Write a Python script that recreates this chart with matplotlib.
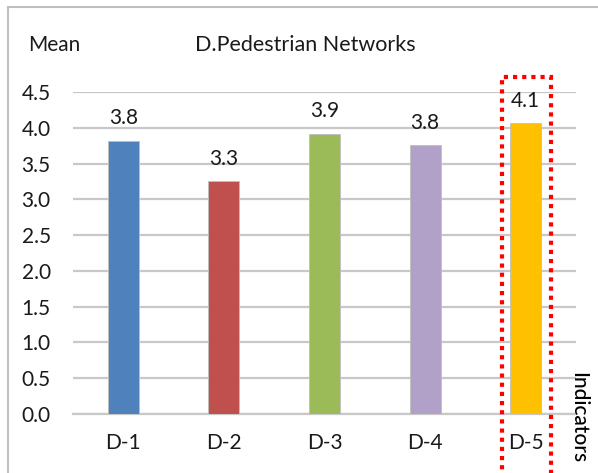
import matplotlib
matplotlib.use("Agg")
import matplotlib.pyplot as plt
from matplotlib.lines import Line2D
from matplotlib.patches import Rectangle

categories = ["D-1", "D-2", "D-3", "D-4", "D-5"]
means = [3.82, 3.26, 3.92, 3.76, 4.06]
colors = ["#4F81BD", "#C0504D", "#9BBB59", "#B1A0C7", "#FFC000"]
yticks = [0.0, 0.5, 1.0, 1.5, 2.0, 2.5, 3.0, 3.5, 4.0, 4.5]

plt.rcParams["font.family"] = ["Lato", "DejaVu Sans"]
FS = 15
TXT = "#1a1a1a"

W, H = 598, 473
fig = plt.figure(figsize=(W / 100, H / 100), dpi=100)
ax = fig.add_axes([73 / W, 1 - 414 / H, (576 - 73) / W, (414 - 92) / H])

x = list(range(len(categories)))
ax.bar(x, means, width=0.31, color=colors, edgecolor="#BFBFBF", linewidth=0.6, zorder=3)
for xi, v in zip(x, means):
    ax.text(xi, v + 0.17, f"{v:.1f}", ha="center", va="bottom", fontsize=FS, color=TXT, zorder=4)

ax.set_xlim(-0.5, len(categories) - 0.5)
ax.set_ylim(0, 4.5)
ax.set_yticks(yticks)
ax.set_yticklabels([f"{t:.1f}" for t in yticks], fontsize=FS, color=TXT)
ax.set_xticks(x)
ax.set_xticklabels(categories, fontsize=FS, color=TXT)
ax.tick_params(axis="both", length=0)
ax.tick_params(axis="y", pad=16)
ax.tick_params(axis="x", pad=14)
ax.yaxis.grid(True, color="#C8C8C8", linewidth=1.6, zorder=0)
for s in ["top", "right", "left"]:
    ax.spines[s].set_visible(False)
ax.spines["bottom"].set_color("#C8C8C8")
ax.spines["bottom"].set_linewidth(1.6)

# Highlight box around D-5
ax.add_patch(Rectangle((502 / W, -0.02), (551 - 502) / W, 1 - 77 / H + 0.02,
                       transform=fig.transFigure, fill=False, edgecolor="#FF0000",
                       linestyle=(0, (1, 1.2)), linewidth=3, clip_on=False, zorder=5))

fig.text(28 / W, 1 - 45 / H, "Mean", ha="left", va="center", fontsize=FS, color=TXT)
fig.text(305 / W, 1 - 45 / H, "D.Pedestrian Networks", ha="center", va="center", fontsize=15.5, color=TXT)
fig.text(578 / W, 1 - 372 / H, "Indicators", ha="center", va="top", rotation=-90,
         fontsize=FS, color="#000000", fontweight="medium")

# Outer frame lines
fig.add_artist(Line2D([8 / W, 1], [1 - 7 / H, 1 - 7 / H], color="#BFBFBF", linewidth=1.5))
fig.add_artist(Line2D([8 / W, 8 / W], [0, 1 - 7 / H], color="#BFBFBF", linewidth=1.5))

fig.savefig("out.png", dpi=100)
